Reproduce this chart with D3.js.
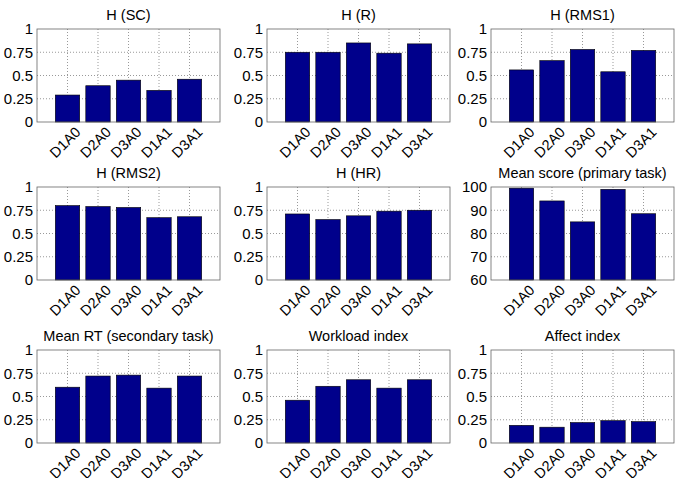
<!DOCTYPE html>
<html>
<head>
<meta charset="utf-8">
<script src="https://cdn.jsdelivr.net/npm/d3@7"></script>
<style>
  body { margin: 0; background: #fff; }
  text { font-family: "Liberation Sans", Arial, sans-serif; fill: #000; }
</style>
</head>
<body>
<svg id="chart" width="675" height="478"></svg>
<script>
// categories shared by every panel
const conditions = ['D1A0', 'D2A0', 'D3A0', 'D1A1', 'D3A1']

const titles = ['H (SC)', 'H (R)', 'H (RMS1)', 'H (RMS2)', 'H (HR)',
  'Mean score (primary task)', 'Mean RT (secondary task)', 'Workload index', 'Affect index']

const hSC = [0.29, 0.39, 0.45, 0.34, 0.46]
const hR = [0.75, 0.75, 0.85, 0.74, 0.84]
const hRMS1 = [0.56, 0.66, 0.78, 0.54, 0.77]
const hRMS2 = [0.80, 0.79, 0.78, 0.67, 0.68]
const hHR = [0.71, 0.65, 0.69, 0.74, 0.75]
const meanScore = [99.5, 94, 85, 99, 88.5]
const meanRT = [0.60, 0.72, 0.73, 0.59, 0.72]
const workload = [0.46, 0.61, 0.68, 0.59, 0.68]
const affect = [0.19, 0.17, 0.22, 0.24, 0.23]

const unitTicks = [0, 0.25, 0.5, 0.75, 1]
const unitTickLabels = ['0', '0.25', '0.5', '0.75', '1']
const scoreTicks = [60, 70, 80, 90, 100]
const scoreTickLabels = ['60', '70', '80', '90', '100']

const series = [hSC, hR, hRMS1, hRMS2, hHR, meanScore, meanRT, workload, affect]

// layout
const colLeft = [37, 267, 491], panelW = 183
const rowTop = [29, 187, 350], panelH = 93

const svg = d3.select('#chart')

series.forEach((values, i) => {
  let left = colLeft[i % 3], top = rowTop[Math.floor(i / 3)]
  let isScore = values === meanScore
  let ticks = isScore ? scoreTicks : unitTicks
  let tickLabels = isScore ? scoreTickLabels : unitTickLabels

  let x = d3.scaleLinear().domain([0, conditions.length + 1]).range([0, panelW])
  let y = d3.scaleLinear().domain([ticks[0], ticks[ticks.length - 1]]).range([panelH, 0])

  let g = svg.append('g').attr('transform', `translate(${left},${top})`)

  // grid
  g.selectAll('line.vgrid')
    .data(conditions)
    .enter().append('line')
      .attr('class', 'vgrid')
      .attr('x1', (d, k) => x(k + 1)).attr('x2', (d, k) => x(k + 1))
      .attr('y1', 0).attr('y2', panelH)
      .attr('stroke', '#999').attr('stroke-dasharray', '1,2')
  g.selectAll('line.hgrid')
    .data(ticks.slice(1, -1))
    .enter().append('line')
      .attr('class', 'hgrid')
      .attr('x1', 0).attr('x2', panelW)
      .attr('y1', d => y(d)).attr('y2', d => y(d))
      .attr('stroke', '#999').attr('stroke-dasharray', '1,2')

  // bars
  let bw = x(0.8) - x(0)
  g.selectAll('rect.bar')
    .data(values)
    .enter().append('rect')
      .attr('class', 'bar')
      .attr('x', (d, k) => x(k + 1) - bw / 2)
      .attr('width', bw)
      .attr('y', d => y(d))
      .attr('height', d => panelH - y(d))
      .attr('fill', '#00008b')
      .attr('stroke', '#000').attr('stroke-width', 0.6)

  // box
  g.append('rect')
    .attr('width', panelW).attr('height', panelH)
    .attr('fill', 'none').attr('stroke', '#666').attr('stroke-width', 0.8)

  // y axis
  let yAxis = d3.axisLeft(y).tickValues(ticks)
    .tickFormat((d, k) => tickLabels[k]).tickSize(0).tickPadding(4)
  let ya = g.append('g').call(yAxis)
  ya.select('.domain').remove()
  ya.selectAll('text').style('font-size', '15px')

  // x labels, rotated
  g.selectAll('text.xlab')
    .data(conditions)
    .enter().append('text')
      .attr('class', 'xlab')
      .attr('text-anchor', 'end')
      .attr('transform', (d, k) => `translate(${x(k + 1) + 14},${panelH + 11}) rotate(-45)`)
      .style('font-size', '14.5px')
      .text(d => d)

  // title
  g.append('text')
    .attr('x', panelW / 2).attr('y', -9)
    .attr('text-anchor', 'middle')
    .style('font-size', '14.5px')
    .text(titles[i])
})
</script>
</body>
</html>
